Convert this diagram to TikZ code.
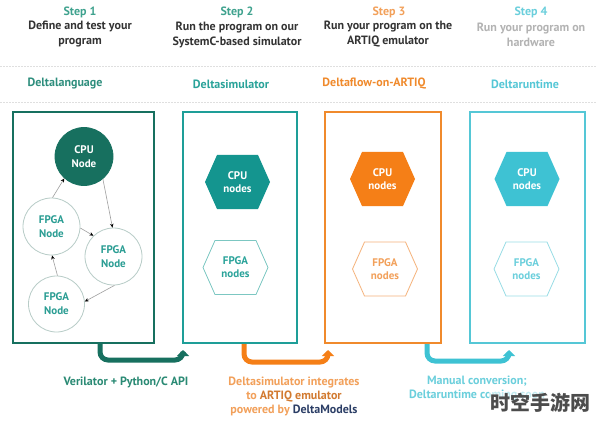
\documentclass[tikz,border=0pt]{standalone}
\usepackage{fontspec}
\setmainfont{PT Sans}
\newfontfamily\cjk{Noto Sans CJK SC}
\usetikzlibrary{arrows.meta,calc}
\definecolor{dkgreen}{HTML}{17705F}
\definecolor{stepgreen}{HTML}{3FA28E}
\definecolor{langgreen}{HTML}{2E8E7D}
\definecolor{tealbox}{HTML}{1E9E98}
\definecolor{tealfill}{HTML}{14958F}
\definecolor{simtext}{HTML}{2AA39A}
\definecolor{orangebox}{HTML}{F08A2C}
\definecolor{orangefill}{HTML}{F57F17}
\definecolor{orangetext}{HTML}{F2A05A}
\definecolor{orangelight}{HTML}{F5B27A}
\definecolor{orangedark}{HTML}{D27A30}
\definecolor{cyanbox}{HTML}{55C7D6}
\definecolor{cyanfill}{HTML}{3EC2D3}
\definecolor{cyantext}{HTML}{6BCFDC}
\definecolor{cyanlight}{HTML}{9ADDE6}
\definecolor{navy}{HTML}{2B3E66}
\definecolor{hdrgray}{HTML}{333333}
\definecolor{futuregray}{HTML}{B3B3B3}
\definecolor{circgray}{HTML}{B8CCC7}
\definecolor{fpgatext}{HTML}{2A9D93}
\definecolor{tealight}{HTML}{7CC7C2}
\definecolor{verigreen}{HTML}{2A8A74}
\newcommand{\hexagonat}[2]{\path[#2] ($(#1)+(-32.5,0)$) -- ++(12,-27) -- ++(41,0) -- ++(12,27) -- ++(-12,27) -- ++(-41,0) -- cycle;}
\begin{document}
\begin{tikzpicture}[x=1pt,y=-1pt,
  steplbl/.style={font=\bfseries\fontsize{12}{15}\selectfont, inner sep=0},
  hdr/.style={font=\bfseries\fontsize{12}{15}\selectfont, align=center, text=hdrgray, inner sep=0},
  sect/.style={font=\bfseries\fontsize{12}{15}\selectfont, inner sep=0},
  sepline/.style={draw=gray!25, line width=0.6pt, dash pattern=on 1.5pt off 1.5pt},
  panel/.style={draw, line width=2pt, minimum height=231pt, inner sep=0},
  circ/.style={circle, draw=circgray, line width=0.8pt, inner sep=0, align=center,
    font=\bfseries\fontsize{11}{14}\selectfont, text=fpgatext},
  hexlbl/.style={align=center, font=\bfseries\fontsize{11}{13}\selectfont, inner sep=0},
  smallarr/.style={draw=gray!75, line width=0.6pt, -{Stealth[length=4pt,width=3.5pt,color=black]}},
  bigarr/.style={line width=5pt, rounded corners=8pt, -{Triangle[length=6pt,width=12pt]}},
  capt/.style={font=\bfseries\fontsize{12}{14}\selectfont, align=center, inner sep=0}]
\useasboundingbox[fill=white] (0,0) rectangle (596,422);
% headers
\node[steplbl, text=stepgreen] (s1) at (80,12) {Step 1};
\node[hdr] (h1) at (80,34.5) {Define and test your\\program};
\node[steplbl, text=stepgreen] (s2) at (237,12) {Step 2};
\node[hdr] (h2) at (237,34.5) {Run the program on our\\SystemC-based simulator};
\node[steplbl, text=orangetext] (s3) at (389,12) {Step 3};
\node[hdr] (h3) at (388,34.5) {Run your program on the\\ARTIQ emulator};
\node[steplbl, text=cyantext] (s4) at (531,12) {Step 4};
\node[hdr, text=futuregray] (h4) at (531,34.5) {Run your program on\\hardware};
% separators
\draw[sepline] (0,66) -- (596,66);
\draw[sepline] (0,102) -- (596,102);
% section labels
\node[sect, text=langgreen] (l1) at (65,84) {Deltalanguage};
\node[sect, text=simtext] (l2) at (231,84) {Deltasimulator};
\node[sect, text=orangebox] (l3) at (374,84) {Deltaflow-on-ARTIQ};
\node[sect, text=cyanbox] (l4) at (525,84) {Deltaruntime};
% panels
\node[panel, draw=dkgreen, minimum width=141pt] (b1) at (83.5,227.5) {};
\node[panel, draw=tealbox, minimum width=114pt] (b2) at (240,227.5) {};
\node[panel, draw=orangebox, minimum width=116pt] (b3) at (383,227.5) {};
\node[panel, draw=cyanbox, minimum width=115pt] (b4) at (527.5,227.5) {};
% panel 1 graph
\node[circ, fill=dkgreen, draw=dkgreen, text=white, minimum size=58pt] (cpu) at (84,156.5) {CPU\\Node};
\node[circ, minimum size=57pt] (f1) at (51.5,226.5) {FPGA\\Node};
\node[circ, minimum size=57pt] (f2) at (113.5,256.5) {FPGA\\Node};
\node[circ, minimum size=56pt] (f3) at (56.5,304) {FPGA\\Node};
\draw[smallarr] (f1.88) -- (cpu.228);
\draw[smallarr] (cpu.-50) -- (f2.92);
\draw[smallarr] (f1.-3) -- (f2.134);
\draw[smallarr] (f2.-88) -- (f3.5);
\draw[smallarr] (f3.88) -- (f1.-89);
% hexagons
\coordinate (hc2) at (237.5,182);
\coordinate (hf2) at (235.5,267.5);
\coordinate (hc3) at (382.5,179);
\coordinate (hf3) at (385,269);
\coordinate (hc4) at (527,179);
\coordinate (hf4) at (526.5,269);
\hexagonat{hc2}{fill=tealfill}
\hexagonat{hf2}{draw=tealight, line width=0.8pt}
\hexagonat{hc3}{fill=orangefill}
\hexagonat{hf3}{draw=orangelight, line width=0.8pt}
\hexagonat{hc4}{fill=cyanfill}
\hexagonat{hf4}{draw=cyanlight, line width=0.8pt}
\node[hexlbl, text=white] (c2) at (hc2) {CPU\\nodes};
\node[hexlbl, text=simtext] (p2) at (hf2) {FPGA\\nodes};
\node[hexlbl, text=white] (c3) at (hc3) {CPU\\nodes};
\node[hexlbl, text=orangetext] (p3) at (hf3) {FPGA\\nodes};
\node[hexlbl, text=white] (c4) at (hc4) {CPU\\nodes};
\node[hexlbl, text=cyantext] (p4) at (hf4) {FPGA\\nodes};
% big arrows
\coordinate (a1m) at (183,360);
\coordinate (a1e) at (183,350);
\coordinate (a2m) at (328,362);
\coordinate (a2e) at (328,350);
\coordinate (a3m) at (509,361);
\coordinate (a3e) at (509,350);
\draw[bigarr, draw=dkgreen] ([xshift=16.5pt]b1.south) |- (a1m) -- (a1e);
\draw[bigarr, draw=orangefill] ([xshift=4pt]b2.south) |- (a2m) -- (a2e);
\draw[bigarr, draw=cyanfill] ([xshift=44pt]b3.south) |- (a3m) -- (a3e);
% captions
\node[capt, text=verigreen] (t1) at (126,382) {Verilator + Python/C API};
\node[capt, text=orangetext] (t2) at (294,396) {Deltasimulator integrates\\to {\color{orangedark}ARTIQ emulator}\\powered by {\color{navy}DeltaModels}};
\node[capt, text=cyantext] (t3) at (477,389) {Manual conversion;\\Deltaruntime coming soon};
% watermark
\node[font=\cjk\bfseries\fontsize{20}{20}\selectfont, text=black!70, fill=white, fill opacity=0.6, text opacity=1, inner sep=1pt] (wm) at (540,403) {时空手游网};
\end{tikzpicture}
\end{document}
